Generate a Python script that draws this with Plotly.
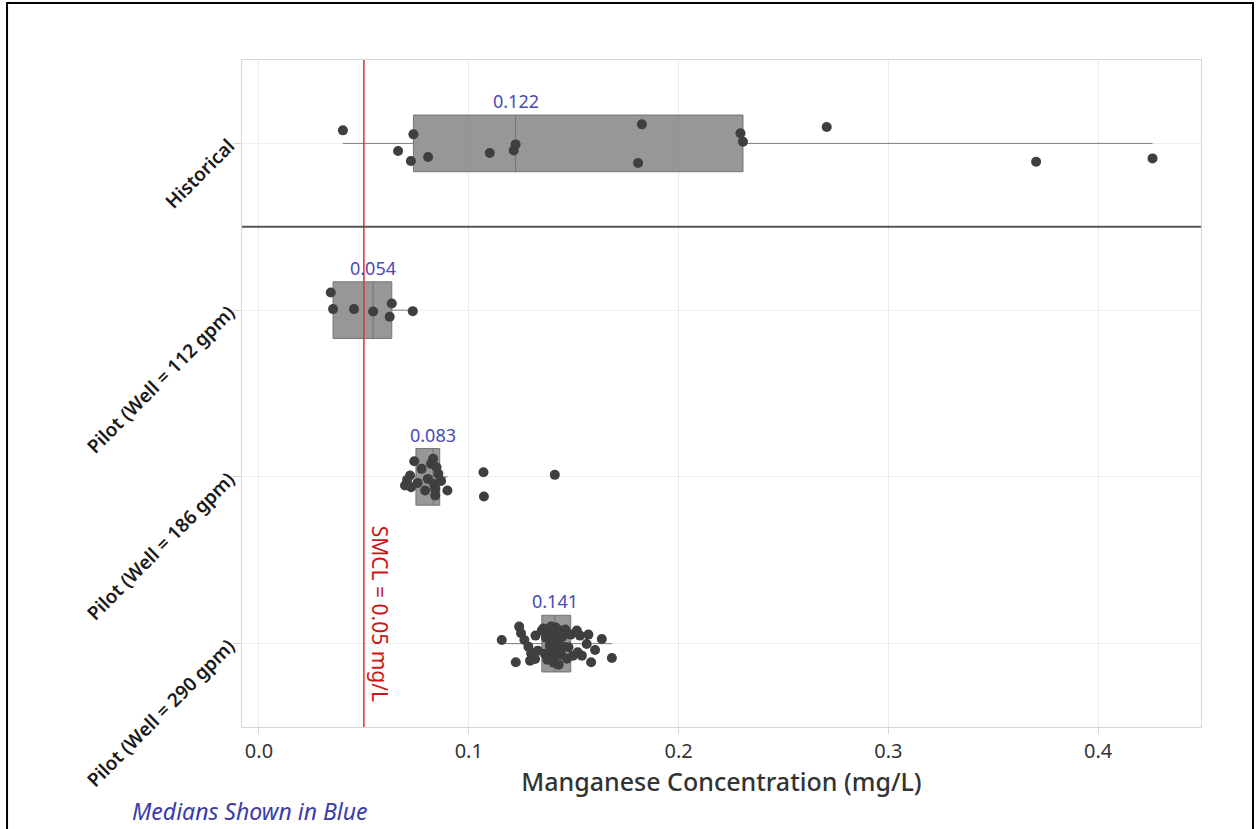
import numpy as np
import plotly.graph_objects as go

categories = ["Historical", "Pilot (Well = 112 gpm)", "Pilot (Well = 186 gpm)", "Pilot (Well = 290 gpm)"]

historical = [0.0400, 0.0736, 0.0663, 0.0724, 0.0806, 0.1100, 0.1223, 0.1214, 0.1825, 0.1807,
              0.2295, 0.2307, 0.2706, 0.3704, 0.4259]
historical_jit = [-0.078, -0.054, 0.046, 0.106, 0.082, 0.058, 0.006, 0.042, -0.114, 0.118,
                  -0.060, -0.010, -0.098, 0.110, 0.090]

pilot112 = [0.0342, 0.0353, 0.0453, 0.0544, 0.0633, 0.0623, 0.0733]
pilot112_jit = [-0.106, -0.006, -0.006, 0.008, -0.040, 0.040, 0.006]

pilot186 = [0.0696, 0.0706, 0.0720, 0.0725, 0.0740, 0.0756, 0.0775, 0.0792, 0.0805, 0.0820,
            0.0830, 0.0835, 0.0840, 0.0840, 0.0846, 0.0855, 0.0868, 0.0898, 0.1070, 0.1072, 0.1410]
pilot186_jit = [0.052, 0.018, -0.008, 0.062, -0.094, 0.036, -0.048, 0.082, 0.012, -0.078,
                -0.108, 0.042, 0.072, 0.112, -0.058, -0.018, 0.024, 0.082, -0.028, 0.118, -0.012]

pilot290 = [0.1157, 0.1224, 0.1240, 0.1249, 0.1265, 0.1284, 0.1292, 0.1297, 0.1316, 0.1318,
            0.1329, 0.1348, 0.1355, 0.1362, 0.1368, 0.1374, 0.1380, 0.1386, 0.1392, 0.1398,
            0.1402, 0.1405, 0.1408, 0.1410, 0.1414, 0.1418, 0.1423, 0.1428, 0.1434, 0.1440,
            0.1446, 0.1452, 0.1460, 0.1468, 0.1475, 0.1486, 0.1497, 0.1515, 0.1519, 0.1530,
            0.1539, 0.1562, 0.1570, 0.1583, 0.1602, 0.1634, 0.1682]
pilot290_jit = [-0.022, 0.112, -0.102, -0.062, -0.022, 0.018, 0.102, 0.058, 0.092, -0.048,
                0.042, -0.078, -0.090, 0.060, -0.036, 0.096, -0.072, 0.012, -0.102, 0.048,
                -0.024, 0.114, -0.060, 0.078, -0.096, 0.030, -0.012, 0.126, -0.078, 0.066,
                -0.042, 0.018, -0.084, 0.090, 0.022, -0.054, 0.072, -0.078, 0.052, -0.048,
                0.072, 0.002, -0.054, 0.112, 0.038, -0.028, 0.086]

series = [historical, pilot112, pilot186, pilot290]
jitters = [historical_jit, pilot112_jit, pilot186_jit, pilot290_jit]

SMCL = 0.05
x_ticks = [0.0, 0.1, 0.2, 0.3, 0.4]
x_tick_text = ["0.0", "0.1", "0.2", "0.3", "0.4"]

FONT = "Noto Sans"
BOX_W = 0.34

fig = go.Figure()

for i, (vals, jit) in enumerate(zip(series, jitters)):
    fig.add_trace(go.Box(
        x=vals, y=[i] * len(vals), orientation="h",
        boxpoints="outliers", quartilemethod="exclusive",
        marker=dict(size=0, opacity=0),
        width=BOX_W, whiskerwidth=0,
        fillcolor="rgba(125,125,125,0.80)",
        line=dict(color="rgba(110,110,110,0.9)", width=1),
        showlegend=False, hoverinfo="skip",
    ))
    fig.add_trace(go.Scatter(
        x=vals, y=[i + j for j in jit], mode="markers",
        marker=dict(color="#3f3f3f", size=10),
        showlegend=False, hoverinfo="skip",
    ))
    med = float(np.median(vals))
    fig.add_annotation(
        x=med, y=i - BOX_W / 2, xref="x", yref="y",
        text=f"{med:.3f}", showarrow=False, yanchor="bottom", yshift=0,
        font=dict(family=FONT, size=18, color="#4a4ab8"),
    )

# SMCL line
fig.add_shape(type="line", x0=SMCL, x1=SMCL, y0=0, y1=1, xref="x", yref="paper",
              line=dict(color="#e03030", width=1.5))
fig.add_annotation(
    x=SMCL, y=2.82, xref="x", yref="y", text="SMCL = 0.05 mg/L",
    textangle=90, showarrow=False, xshift=16,
    font=dict(family=FONT, size=21, color="#cc1515"),
)

# separator between Historical and Pilot groups
fig.add_shape(type="line", x0=0, x1=1, y0=0.5, y1=0.5, xref="paper", yref="y",
              line=dict(color="#555555", width=2))

# outer frame
fig.add_shape(type="rect", xref="paper", yref="paper",
              x0=-0.2450, x1=1.0542, y0=-0.17, y1=1.0855,
              line=dict(color="black", width=2), fillcolor="rgba(0,0,0,0)")

fig.add_annotation(
    x=-0.117, y=-0.126, xref="paper", yref="paper", xanchor="left", yanchor="middle",
    text="<i>Medians Shown in Blue</i>", showarrow=False,
    font=dict(family=FONT, size=23, color="#3a3aa8"),
)

fig.update_layout(
    width=1257, height=829,
    margin=dict(l=242, r=56, t=60, b=102),
    paper_bgcolor="white", plot_bgcolor="white",
    font=dict(family=FONT, color="#333333"),
    xaxis=dict(
        range=[-0.0081, 0.449], tickvals=x_ticks, ticktext=x_tick_text,
        showgrid=True, gridcolor="#ebebeb", zeroline=False,
        showline=True, mirror=True, linecolor="#d6d6d6", linewidth=1,
        ticks="outside", ticklen=6, tickcolor="#d6d6d6",
        tickfont=dict(family=FONT, size=20, color="#333333"),
        title=dict(text="Manganese Concentration (mg/L)", standoff=8,
                   font=dict(family=FONT, size=25, color="#333333", weight=500)),
    ),
    yaxis=dict(
        range=[3.5, -0.5], tickvals=[0, 1, 2, 3], ticktext=categories,
        tickangle=-45, showgrid=True, gridcolor="#efefef", zeroline=False,
        showline=True, mirror=True, linecolor="#d6d6d6", linewidth=1,
        ticks="outside", ticklen=8, tickcolor="#d6d6d6",
        tickfont=dict(family=FONT, size=19, color="#1a1a1a", weight=600),
    ),
)

fig.write_html("out.html")
